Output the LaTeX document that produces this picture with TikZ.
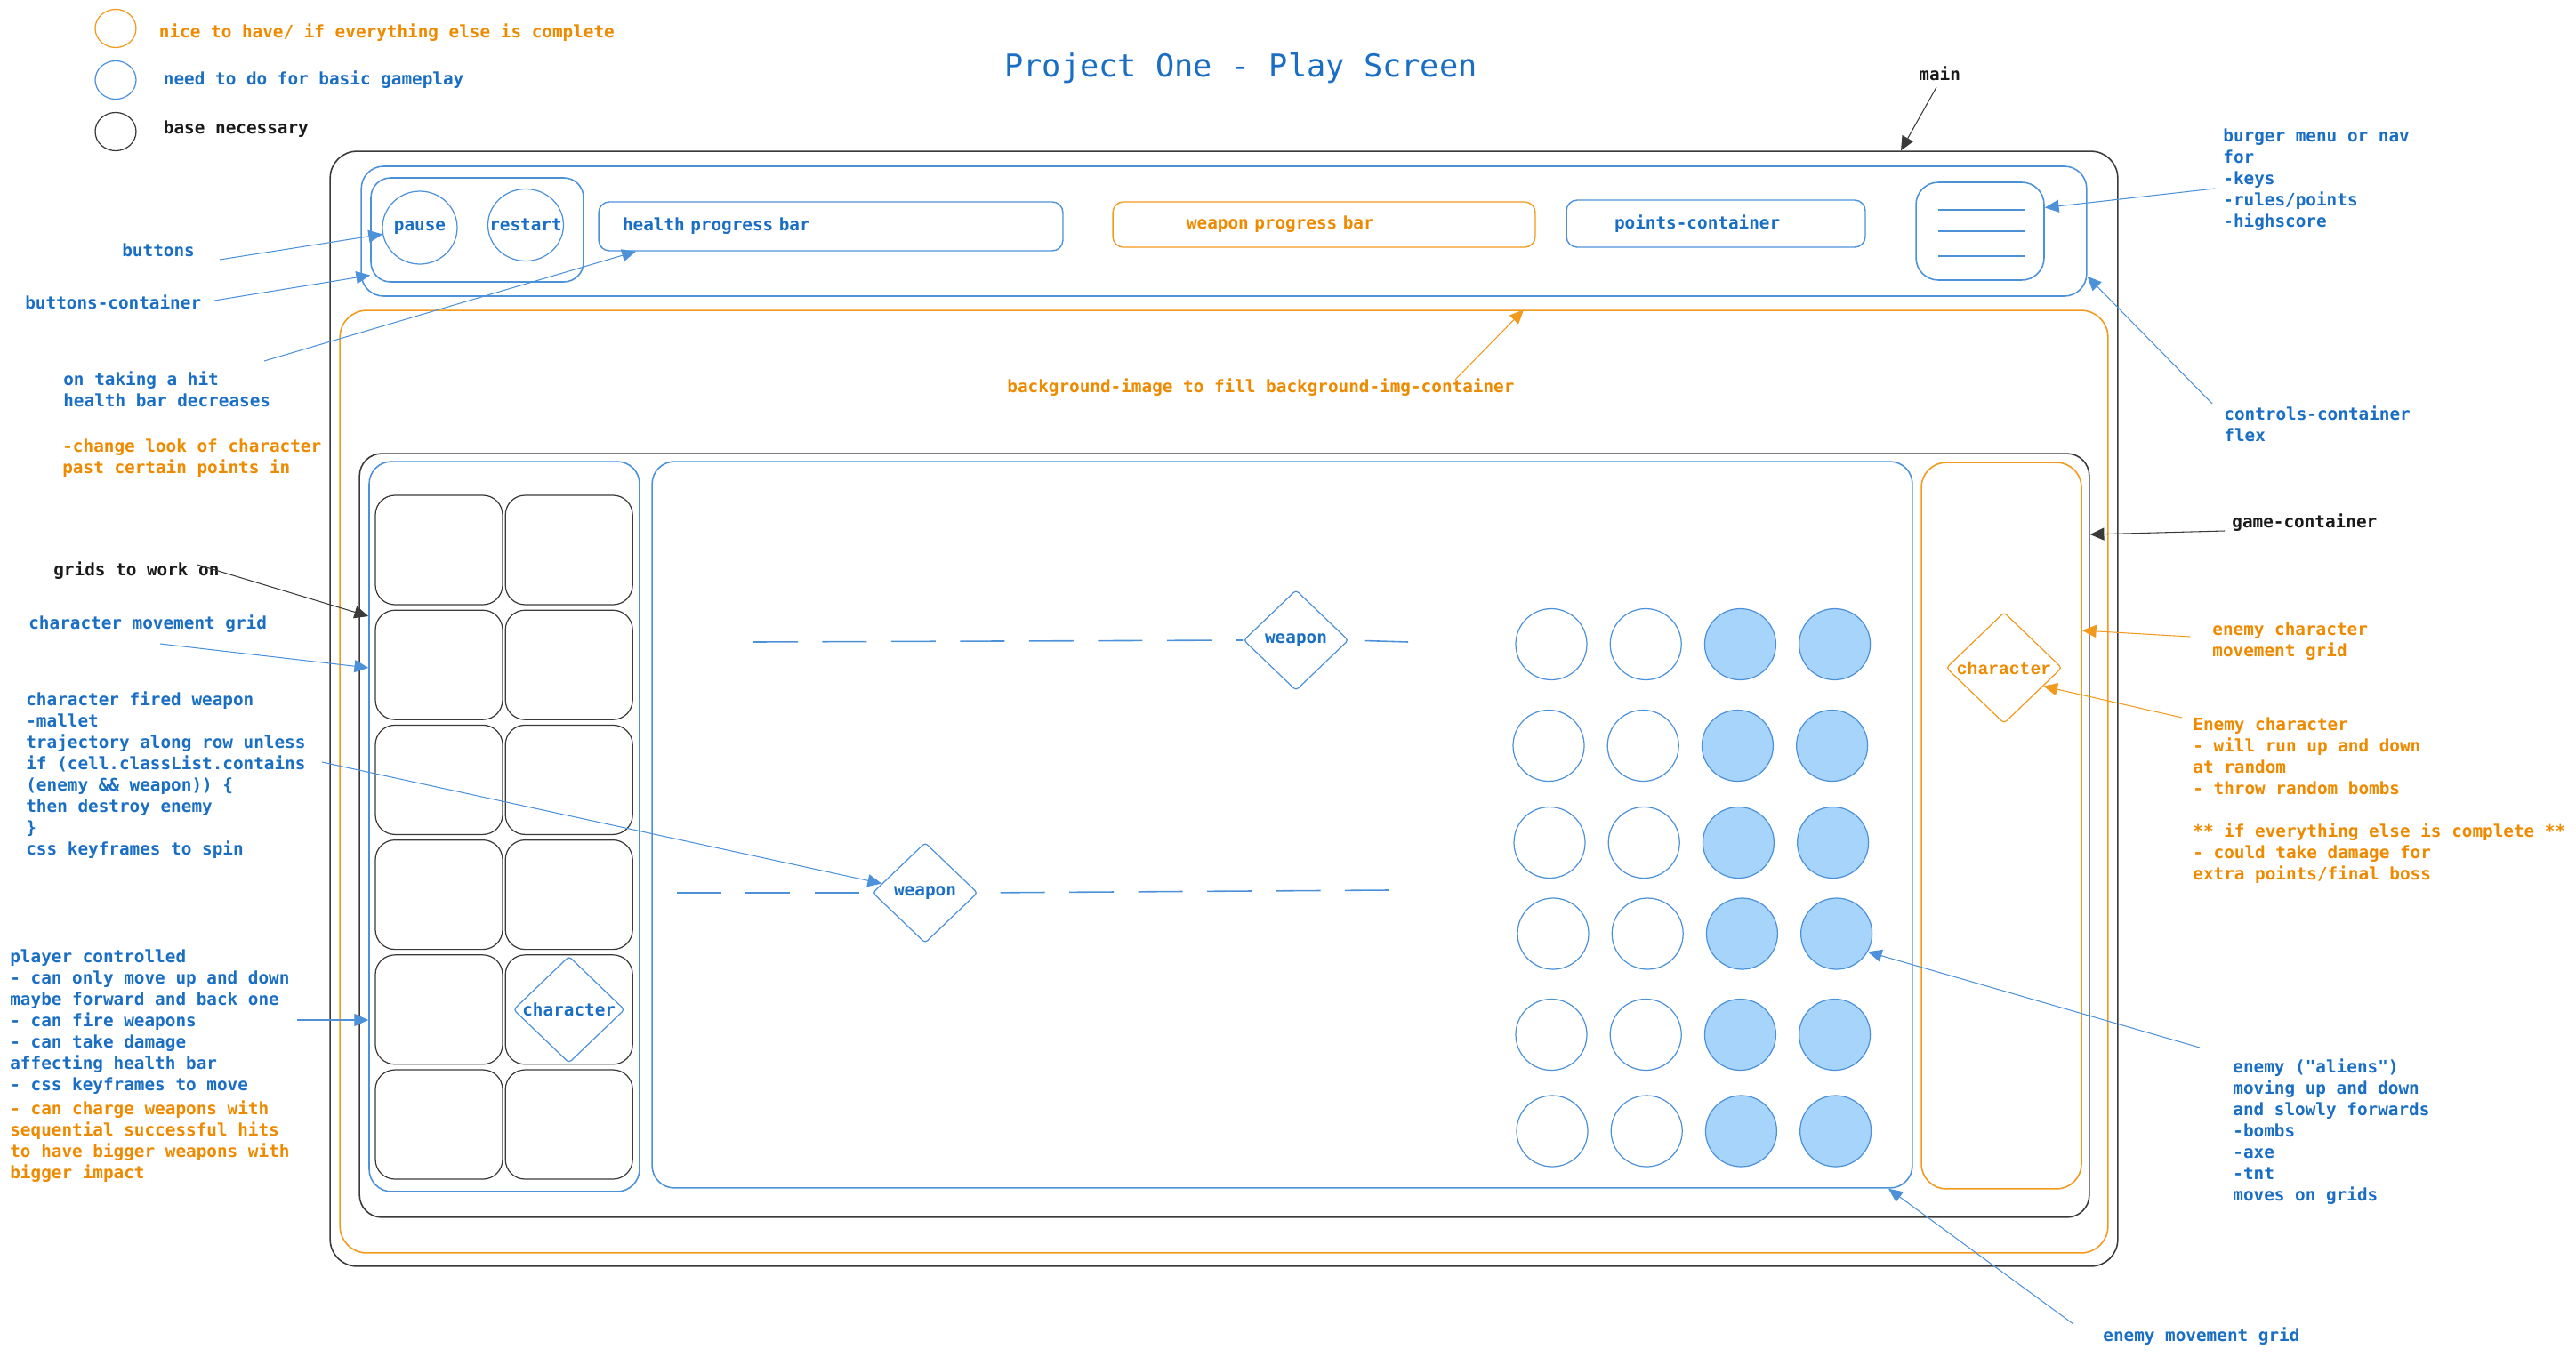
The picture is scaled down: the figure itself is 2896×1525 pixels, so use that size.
\documentclass[tikz,border=0pt]{standalone}
\usepackage{fontspec}
\setmonofont{DejaVu Sans Mono}
\newfontfamily\enemyfont{Liberation Mono}
\usepackage{tikz}
\usetikzlibrary{positioning,shapes,arrows.meta}

\definecolor{txtblue}{HTML}{1A6FC4}
\definecolor{txtorange}{HTML}{EE8A00}
\definecolor{txtblack}{HTML}{1A1A1A}
\definecolor{lineblue}{HTML}{4D92D9}
\definecolor{lineorange}{HTML}{F29A1D}
\definecolor{lineblack}{HTML}{3A3A3A}
\definecolor{alienblue}{HTML}{A6D4FB}
\newcommand{\annofont}{\ttfamily\fontsize{11}{13.66}\selectfont\bfseries}

\begin{document}
\begin{tikzpicture}[
		x=0.02cm, y=-0.02cm,
		blackbox/.style={rectangle, draw=lineblack, line width=0.9pt, rounded corners=0.6cm, inner sep=0pt},
		bluebox/.style={rectangle, draw=lineblue, line width=0.9pt, rounded corners=0.5cm, inner sep=0pt},
		orangebox/.style={rectangle, draw=lineorange, line width=0.9pt, rounded corners=0.56cm, inner sep=0pt},
		cell/.style={rectangle, draw=lineblack, line width=0.7pt, rounded corners=0.44cm, minimum width=2.86cm, minimum height=2.46cm},
		bar/.style={rectangle, line width=0.8pt, rounded corners=0.24cm, align=left, font=\annofont},
		button/.style={ellipse, draw=lineblue, line width=0.7pt, inner sep=0pt, text=txtblue, font=\annofont},
		legend/.style={ellipse, line width=0.7pt, minimum width=0.92cm, minimum height=0.86cm, inner sep=0pt},
		weapon/.style={diamond, draw=lineblue, line width=0.7pt, rounded corners=2pt, inner sep=0pt, text=txtblue, font=\annofont, minimum width=2.36cm, minimum height=2.26cm},
		echar/.style={diamond, draw=lineorange, line width=0.7pt, rounded corners=2pt, inner sep=0pt, text=txtorange, font=\enemyfont\bfseries\fontsize{11.2}{13}\selectfont, minimum width=2.6cm, minimum height=2.5cm},
		alien/.style={circle, draw=lineblue, line width=0.7pt, minimum size=1.6cm, inner sep=0pt},
		alienhit/.style={alien, fill=alienblue},
		note/.style={inner sep=0pt, align=left, font=\annofont},
		trail/.style={draw=lineblue, line width=0.9pt, dash pattern=on 1cm off 0.55cm},
		barrow/.style={draw=lineblue, line width=0.6pt, -{Triangle[length=9pt,width=8pt]}},
		oarrow/.style={draw=lineorange, line width=0.6pt, -{Triangle[length=9pt,width=8pt]}},
		karrow/.style={draw=lineblack, line width=0.6pt, -{Triangle[length=9pt,width=8pt]}},
		]
		\useasboundingbox (0,0) rectangle (2896,1525);

		%Title and Legend
		\node[font=\ttfamily\fontsize{20.1}{24}\selectfont, text=txtblue]	(title)	at (1395,77)	{Project One - Play Screen};
		\node[legend, draw=lineorange]	(leg_nice)	at (130,32)		{};
		\node[legend, draw=lineblue]	(leg_need)	at (130,90)		{};
		\node[legend, draw=lineblack]	(leg_base)	at (130,148)	{};
		\node[note, text=txtorange]	(leg_nice_txt)	[right=0.5cm of leg_nice, yshift=-0.1cm]	{nice to have/ if everything else is complete};
		\node[note, text=txtblue]	(leg_need_txt)	[right=0.6cm of leg_need]	{need to do for basic gameplay};
		\node[note, text=txtblack]	(leg_base_txt)	[right=0.6cm of leg_base, yshift=0.06cm]	{base necessary};

		%Main Containers
		\node[blackbox, minimum width=40.2cm, minimum height=25.08cm]	(main)		at (1376,797)		{};
		\node[bluebox, minimum width=38.8cm, minimum height=2.92cm]		(controls)	at (1376,260)		{};
		\node[orangebox, rounded corners=0.6cm, minimum width=39.76cm, minimum height=21.2cm]	(bg)	at (1376,879)	{};
		\node[blackbox, rounded corners=0.5cm, minimum width=38.9cm, minimum height=17.18cm]	(game)	at (1376.5,939.5)	{};

		%Controls
		\node[bluebox, rounded corners=0.44cm, minimum width=4.78cm, minimum height=2.34cm]	(btn_box)	at (536.5,258.5)	{};
		\node[button, minimum width=1.68cm, minimum height=1.64cm]	(pause)		at (472,256)	{\makebox[0pt]{\raisebox{-0.1cm}{pause}}};
		\node[button, minimum width=1.7cm, minimum height=1.62cm]	(restart)	at (591,253)	{\makebox[0pt]{\raisebox{-0.12cm}{restart}}};
		\node[bar, draw=lineblue, text=txtblue, text width=9.36cm, inner xsep=0.54cm, minimum height=1.1cm]		(health)	at (934,254.5)		{\raisebox{-0.14cm}{health progress bar}};
		\node[bar, draw=lineorange, text=txtorange, text width=6.18cm, inner xsep=1.66cm, minimum height=1.02cm]	(weapon_bar)	at (1488.5,252.5)	{\raisebox{-0.12cm}{weapon progress bar}};
		\node[bar, draw=lineblue, text=txtblue, text width=4.56cm, inner xsep=1.08cm, minimum height=1.06cm]		(points)	at (1929,251.5)		{\raisebox{-0.12cm}{points-container}};
		\node[bluebox, minimum width=2.88cm, minimum height=2.2cm]	(burger)	at (2226,260)	{};
		\draw[lineblue, line width=0.8pt] (2179,236) -- (2276,236);
		\draw[lineblue, line width=0.8pt] (2179,260) -- (2276,260);
		\draw[lineblue, line width=0.8pt] (2179,288) -- (2276,288);

		%Game Containers
		\node[bluebox, minimum width=6.08cm, minimum height=16.42cm]	(char_grid)		at (567,929.5)		{};
		\node[bluebox, minimum width=28.34cm, minimum height=16.34cm]	(game_area)		at (1441.5,927.5)	{};
		\node[orangebox, minimum width=3.6cm, minimum height=16.34cm]	(enemy_grid)	at (2250,928.5)		{};

		%Character Movement Grid
		\node[cell]	(cell_1_1)	at (493.5,618.5)			{};
		\node[cell]	(cell_1_2)	[right=0.04cm of cell_1_1]	{};
		\node[cell]	(cell_2_1)	[below=0.1cm of cell_1_1]	{};
		\node[cell]	(cell_2_2)	[right=0.04cm of cell_2_1]	{};
		\node[cell]	(cell_3_1)	[below=0.1cm of cell_2_1]	{};
		\node[cell]	(cell_3_2)	[right=0.04cm of cell_3_1]	{};
		\node[cell]	(cell_4_1)	[below=0.1cm of cell_3_1]	{};
		\node[cell]	(cell_4_2)	[right=0.04cm of cell_4_1]	{};
		\node[cell]	(cell_5_1)	[below=0.1cm of cell_4_1]	{};
		\node[cell]	(cell_5_2)	[right=0.04cm of cell_5_1]	{};
		\node[cell]	(cell_6_1)	[below=0.1cm of cell_5_1]	{};
		\node[cell]	(cell_6_2)	[right=0.04cm of cell_6_1]	{};
		\node[weapon, minimum width=2.5cm, minimum height=2.4cm]	(hero)	at (cell_5_2.center)	{character};

		%Weapons
		\node[weapon]	(weapon_1)	at (1457,720)	{weapon};
		\node[weapon]	(weapon_2)	at (1040,1004)	{weapon};
		\coordinate	(trail_1)	at (847,722);
		\coordinate	(trail_2)	at (1583,722);
		\coordinate	(trail_3)	at (761,1004);
		\coordinate	(trail_4)	at (1561,1001);
		\draw[trail]	(trail_1)	--	(weapon_1.west);
		\draw[trail, shorten <=0.36cm]	(weapon_1.east)	--	(trail_2);
		\draw[trail]	(trail_3)	--	(weapon_2.west);
		\draw[trail, shorten <=0.5cm]	(weapon_2.east)	--	(trail_4);

		%Enemies
		\node[echar]	(enemy_char)	at (2253,751)	{character};
		\node[alien]	(en_1_1)	at (1744,724.5)				{};
		\node[alien]	(en_1_2)	[right=0.5cm of en_1_1]	{};
		\node[alienhit]	(en_1_3)	[right=0.5cm of en_1_2]	{};
		\node[alienhit]	(en_1_4)	[right=0.5cm of en_1_3]	{};
		\node[alien]	(en_2_1)	at (1741,838.5)				{};
		\node[alien]	(en_2_2)	[right=0.5cm of en_2_1]	{};
		\node[alienhit]	(en_2_3)	[right=0.5cm of en_2_2]	{};
		\node[alienhit]	(en_2_4)	[right=0.5cm of en_2_3]	{};
		\node[alien]	(en_3_1)	at (1742,947.5)				{};
		\node[alien]	(en_3_2)	[right=0.5cm of en_3_1]	{};
		\node[alienhit]	(en_3_3)	[right=0.5cm of en_3_2]	{};
		\node[alienhit]	(en_3_4)	[right=0.5cm of en_3_3]	{};
		\node[alien]	(en_4_1)	at (1746,1050)				{};
		\node[alien]	(en_4_2)	[right=0.5cm of en_4_1]	{};
		\node[alienhit]	(en_4_3)	[right=0.5cm of en_4_2]	{};
		\node[alienhit]	(en_4_4)	[right=0.5cm of en_4_3]	{};
		\node[alien]	(en_5_1)	at (1744,1163.5)			{};
		\node[alien]	(en_5_2)	[right=0.5cm of en_5_1]	{};
		\node[alienhit]	(en_5_3)	[right=0.5cm of en_5_2]	{};
		\node[alienhit]	(en_5_4)	[right=0.5cm of en_5_3]	{};
		\node[alien]	(en_6_1)	at (1745,1272)				{};
		\node[alien]	(en_6_2)	[right=0.5cm of en_6_1]	{};
		\node[alienhit]	(en_6_3)	[right=0.5cm of en_6_2]	{};
		\node[alienhit]	(en_6_4)	[right=0.5cm of en_6_3]	{};

		%Notes Left
		\node[note, text=txtblue, anchor=west]	(buttons_lbl)	at (137,281)	{buttons};
		\node[note, text=txtblue, anchor=west]	(btnbox_lbl)	at (28,340)		{buttons-container};
		\node[note, text=txtblue, anchor=north west]	(hit_lbl)	at (71,417)	{on taking a hit\\health bar decreases};
		\node[note, text=txtorange, anchor=north west]	(look_lbl)	at (70,493)	{-change look of character\\past certain points in};
		\node[note, text=txtblack, anchor=west]	(grids_lbl)		at (60,642)		{grids to work on};
		\node[note, text=txtblue, anchor=west]	(cmg_lbl)		at (32,702)		{character movement grid};
		\node[note, text=txtblue, anchor=north west]	(fired_lbl)	at (29,777)	{character fired weapon\\-mallet\\trajectory along row unless\\if (cell.classList.contains\\(enemy \&\& weapon)) \{\\then destroy enemy\\\}\\css keyframes to spin};
		\node[note, text=txtblue, anchor=north west]	(player_lbl)	at (11,1067)	{player controlled\\- can only move up and down\\maybe forward and back one\\- can fire weapons\\- can take damage\\affecting health bar\\- css keyframes to move};
		\node[note, text=txtorange, anchor=north west]	(charge_lbl)	at (11,1237)	{- can charge weapons with\\sequential successful hits\\to have bigger weapons with\\bigger impact};

		%Notes Right
		\node[note, text=txtblack, anchor=west]	(main_lbl)	at (2157,83)	{main};
		\node[note, text=txtblue, anchor=north west]	(burger_lbl)	at (2499,144)	{burger menu or nav\\for\\-keys\\-rules/points\\-highscore};
		\node[note, text=txtblue, anchor=north west]	(controls_lbl)	at (2500,456)	{controls-container\\flex};
		\node[note, text=txtorange, anchor=west]	(bg_lbl)	at (1132,436)	{background-image to fill background-img-container};
		\node[note, text=txtblack, anchor=west]	(game_lbl)	at (2509,588)	{game-container};
		\node[note, text=txtorange, anchor=north west]	(egrid_lbl)	at (2487,699)	{enemy character\\movement grid};
		\node[note, text=txtorange, anchor=north west]	(echar_lbl)	at (2465,806)	{Enemy character\\- will run up and down\\at random\\- throw random bombs\\[13.66pt]** if everything else is complete **\\- could take damage for\\extra points/final boss};
		\node[note, text=txtblue, anchor=north west]	(aliens_lbl)	at (2510,1190)	{enemy ("aliens")\\moving up and down\\and slowly forwards\\-bombs\\-axe\\-tnt\\moves on grids};
		\node[note, text=txtblue, anchor=west]	(emg_lbl)	at (2364,1503)	{enemy movement grid};

		%Arrows
		\coordinate	(main_t)		at (2177,98);
		\coordinate	(burger_t)		at (2490,212);
		\coordinate	(controls_t)	at (2487,454);
		\coordinate	(buttons_t)		at (247,292);
		\coordinate	(btnbox_t)		at (241,338);
		\coordinate	(hit_t)			at (297,406);
		\coordinate	(grids_t)		at (222,635);
		\coordinate	(cmg_t)			at (180,724);
		\coordinate	(fired_t)		at (362,857);
		\coordinate	(player_t)		at (334,1147);
		\coordinate	(bg_t)			at (1636,427);
		\coordinate	(game_t)		at (2501,597);
		\coordinate	(egrid_t)		at (2462,716);
		\coordinate	(echar_t)		at (2453,807);
		\coordinate	(aliens_t)		at (2473,1178);
		\coordinate	(emg_t)			at (2331,1489);

		\draw[karrow]	(main_t)		--	(2137,0 |- main.north);
		\draw[barrow]	(burger_t)		--	(burger.20);
		\draw[barrow]	(controls_t)	--	(controls.-3.2);
		\draw[barrow]	(buttons_t)		--	(pause.190);
		\draw[barrow]	(btnbox_t)		--	(btn_box.203);
		\draw[barrow]	(hit_t)			--	(715,0 |- health.south);
		\draw[karrow]	(grids_t)		--	(char_grid.west |- 0,693);
		\draw[barrow]	(cmg_t)			--	(char_grid.west |- 0,751);
		\draw[barrow]	(fired_t)		--	(weapon_2.168);
		\draw[barrow]	(player_t)		--	(char_grid.west |- 0,1147);
		\draw[oarrow]	(bg_t)			--	(1713,0 |- bg.north);
		\draw[karrow]	(game_t)		--	(game.east |- 0,601);
		\draw[oarrow]	(egrid_t)		--	(enemy_grid.east |- 0,709);
		\draw[oarrow]	(echar_t)		--	(enemy_char.-25);
		\draw[barrow]	(aliens_t)		--	(en_4_4.-30);
		\draw[barrow]	(emg_t)			--	(2123,0 |- game_area.south);

	\end{tikzpicture}
\end{document}
